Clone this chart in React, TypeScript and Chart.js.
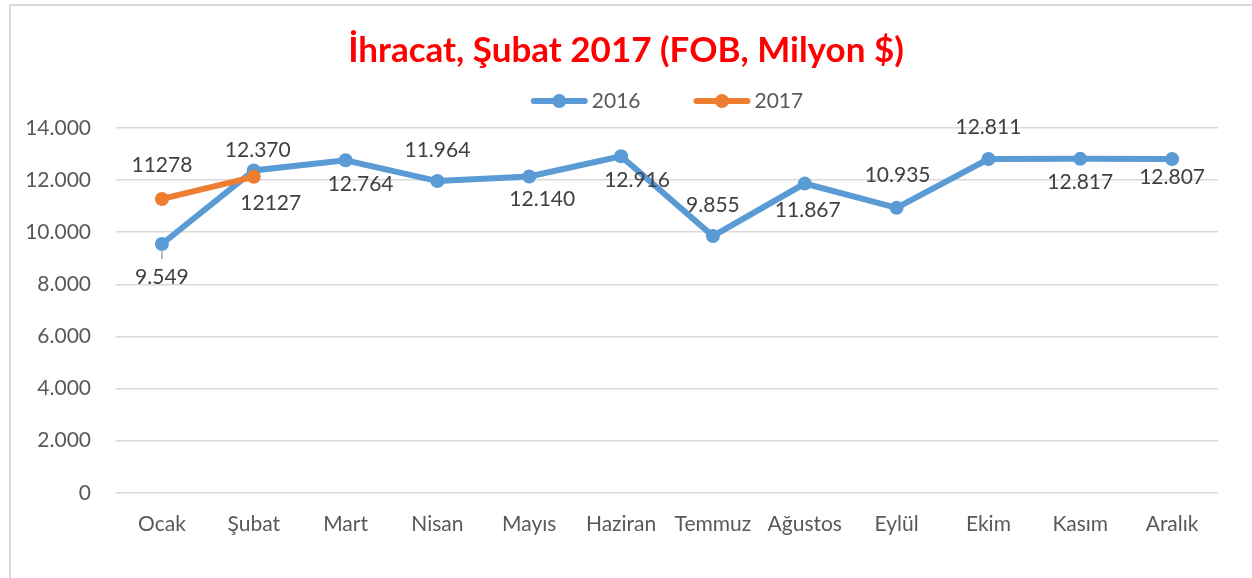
import React, { useEffect, useRef } from "react";
import { Chart, registerables } from "chart.js";

Chart.register(...registerables);

// ---- data ----
const months = ["Ocak", "Şubat", "Mart", "Nisan", "Mayıs", "Haziran", "Temmuz", "Ağustos", "Eylül", "Ekim", "Kasım", "Aralık"];
const exports2016 = [9549, 12370, 12764, 11964, 12140, 12916, 9855, 11867, 10935, 12811, 12817, 12807];
const exports2017 = [11278, 12127];
const seriesNames = ["2016", "2017"];
const titleText = "İhracat, Şubat 2017 (FOB, Milyon $)";
const yMin = 0;
const yMax = 14000;
const yStep = 2000;

// ---- label placement (style: pixel offsets of each value label from its point) ----
const place2016: [number, number][] = [[0, 33], [4, -20], [15, 24], [0, -31], [13, 23], [16, 24], [0, -31], [3, 27], [1, -33], [0, -32], [0, 23], [0, 18]];
const place2017: [number, number][] = [[0, -34], [17, 26]];
const leader2016 = [true, false, false, false, false, false, false, false, false, false, false, false];

const BLUE = "#5b9bd5";
const ORANGE = "#ed7d31";
const FONT = "Lato";
const TICK_SIZE = 21;
const LINE_W = 6;
const POINT_R = 7;

const dotted = (v: number) => String(v).replace(/\B(?=(\d{3})+(?!\d))/g, ".");
const plain = (v: number) => String(v);

const placements = [place2016, place2017];
const formatters = [dotted, plain];
const leaders = [leader2016, []];

const valueLabels = {
  id: "valueLabels",
  afterDatasetsDraw(chart: any) {
    const ctx = chart.ctx;
    ctx.save();
    ctx.font = `${TICK_SIZE}px ${FONT}`;
    ctx.fillStyle = "#404040";
    ctx.textAlign = "center";
    ctx.textBaseline = "middle";
    chart.data.datasets.forEach((ds: any, di: number) => {
      const meta = chart.getDatasetMeta(di);
      meta.data.forEach((pt: any, i: number) => {
        const v = ds.data[i];
        if (v == null) return;
        const [dx, dy] = placements[di][i] || [0, -25];
        if ((leaders[di] as boolean[])[i]) {
          ctx.save();
          ctx.strokeStyle = "#a6a6a6";
          ctx.lineWidth = 1.5;
          ctx.beginPath();
          ctx.moveTo(pt.x, pt.y + 6);
          ctx.lineTo(pt.x, pt.y + 15);
          ctx.stroke();
          ctx.restore();
        }
        ctx.fillText(formatters[di](v), pt.x + dx, pt.y + dy);
      });
    });
    ctx.restore();
  },
};

const lineLegend = {
  id: "lineLegend",
  afterDraw(chart: any) {
    const ctx = chart.ctx;
    const area = chart.chartArea;
    const cy = 101;
    const lineLen = 57;
    const gapText = 4;
    const gapItem = 53;
    ctx.save();
    ctx.font = `${TICK_SIZE}px ${FONT}`;
    const widths = chart.data.datasets.map((d: any) => ctx.measureText(d.label).width);
    const total = chart.data.datasets.reduce((s: number, _d: any, i: number) => s + lineLen + gapText + widths[i], 0) + gapItem * (chart.data.datasets.length - 1);
    let x = (area.left + area.right) / 2 - total / 2;
    chart.data.datasets.forEach((d: any, i: number) => {
      ctx.strokeStyle = d.borderColor;
      ctx.lineWidth = LINE_W;
      ctx.lineCap = "round";
      ctx.beginPath();
      ctx.moveTo(x + 3, cy);
      ctx.lineTo(x + lineLen - 3, cy);
      ctx.stroke();
      ctx.fillStyle = d.borderColor;
      ctx.beginPath();
      ctx.arc(x + lineLen / 2, cy, POINT_R, 0, Math.PI * 2);
      ctx.fill();
      ctx.fillStyle = "#595959";
      ctx.textAlign = "left";
      ctx.textBaseline = "middle";
      ctx.fillText(d.label, x + lineLen + gapText, cy);
      x += lineLen + gapText + widths[i] + gapItem;
    });
    ctx.restore();
  },
};

export default function App() {
  const ref = useRef<HTMLCanvasElement>(null);
  useEffect(() => {
    if (!ref.current) return;
    const chart = new Chart(ref.current, {
      type: "line",
      data: {
        labels: months,
        datasets: [
          {
            label: seriesNames[0],
            data: exports2016,
            borderColor: BLUE,
            backgroundColor: BLUE,
            borderWidth: LINE_W,
            pointRadius: POINT_R,
            pointHoverRadius: POINT_R,
            pointBackgroundColor: BLUE,
            pointBorderWidth: 0,
            tension: 0,
            order: 1,
          },
          {
            label: seriesNames[1],
            data: exports2017,
            borderColor: ORANGE,
            backgroundColor: ORANGE,
            borderWidth: LINE_W,
            pointRadius: POINT_R,
            pointHoverRadius: POINT_R,
            pointBackgroundColor: ORANGE,
            pointBorderWidth: 0,
            tension: 0,
            order: 0,
          },
        ],
      },
      options: {
        animation: false,
        responsive: false,
        maintainAspectRatio: false,
        devicePixelRatio: 1,
        layout: { padding: { left: 0, right: 0, top: 0, bottom: 22 } },
        plugins: {
          legend: { display: false },
          tooltip: { enabled: false },
          title: {
            display: true,
            text: titleText,
            color: "#ff0000",
            font: { family: FONT, size: 35, weight: "bold" },
            padding: { top: 30, bottom: 56 },
          },
        },
        scales: {
          x: {
            type: "category",
            offset: true,
            grid: { display: false, drawTicks: false },
            border: { display: false },
            ticks: { color: "#595959", font: { family: FONT, size: TICK_SIZE }, padding: 19, maxRotation: 0, autoSkip: false },
          },
          y: {
            position: "left",
            min: yMin,
            max: yMax,
            ticks: {
              stepSize: yStep,
              color: "#595959",
              font: { family: FONT, size: TICK_SIZE },
              padding: 25,
              callback: (v: any) => dotted(Number(v)),
            },
            grid: { color: "#d9d9d9", lineWidth: 1.5, drawTicks: false },
            border: { display: false },
            afterFit: (s: any) => {
              s.width = 116;
            },
          },
          yRight: {
            position: "right",
            min: yMin,
            max: yMax,
            grid: { display: false, drawTicks: false },
            border: { display: false },
            ticks: { display: false },
            afterFit: (s: any) => {
              s.width = 34;
            },
          },
        },
      },
      plugins: [valueLabels, lineLegend],
    });
    return () => chart.destroy();
  }, []);

  return (
    <div style={{ position: "absolute", left: 0, top: 0, width: 1252, height: 578, overflow: "hidden", background: "#fff" }}>
      <div
        style={{
          position: "absolute",
          left: 9,
          top: 4,
          width: 1400,
          height: 800,
          borderTop: "2px solid #d9d9d9",
          borderLeft: "2px solid #d9d9d9",
        }}
      />
      <canvas ref={ref} width={1252} height={578} style={{ position: "absolute", left: 0, top: 0, width: 1252, height: 578 }} />
    </div>
  );
}
